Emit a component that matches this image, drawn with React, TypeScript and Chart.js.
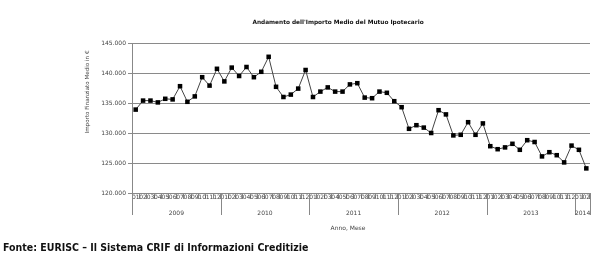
import { useEffect, useRef } from 'react';
import { Chart, registerables } from 'chart.js';

Chart.register(...registerables);

const chartTitle = "Andamento dell'Importo Medio del Mutuo Ipotecario";
const yAxisTitle = 'Importo Finanziato Medio in €';
const xAxisTitle = 'Anno, Mese';
const footerText = 'Fonte: EURISC – Il Sistema CRIF di Informazioni Creditizie';

const monthLabels = [
  '01', '02', '03', '04', '05', '06', '07', '08', '09', '10', '11', '12',
  '01', '02', '03', '04', '05', '06', '07', '08', '09', '10', '11', '12',
  '01', '02', '03', '04', '05', '06', '07', '08', '09', '10', '11', '12',
  '01', '02', '03', '04', '05', '06', '07', '08', '09', '10', '11', '12',
  '01', '02', '03', '04', '05', '06', '07', '08', '09', '10', '11', '12',
  '01', '02',
];

const yearLabels = ['2009', '2010', '2011', '2012', '2013', '2014'];
const monthsPerYear = [12, 12, 12, 12, 12, 2];

const importoMedio = [
  // 2009
  133900, 135400, 135400, 135100, 135700, 135600, 137800, 135200, 136100, 139300, 137900, 140700,
  // 2010
  138600, 140900, 139500, 141000, 139300, 140200, 142700, 137700, 136000, 136400, 137400, 140500,
  // 2011
  136000, 136900, 137600, 136900, 136900, 138100, 138300, 135900, 135800, 136900, 136700, 135300,
  // 2012
  134300, 130700, 131300, 130900, 130000, 133800, 133100, 129600, 129700, 131800, 129700, 131600,
  // 2013
  127800, 127300, 127600, 128200, 127200, 128800, 128500, 126100, 126800, 126300, 125100, 127900,
  // 2014
  127200, 124100,
];

const yMin = 120000;
const yMax = 145000;
const yStep = 5000;

const FONT = '"DejaVu Sans", Verdana, sans-serif';

const overlayPlugin = {
  id: 'overlayTexts',
  afterDraw(chart: any) {
    const { ctx, chartArea } = chart;
    const xs = chart.scales.x;
    ctx.save();
    // chart title
    ctx.fillStyle = '#111';
    ctx.font = `bold 5.8px ${FONT}`;
    ctx.textAlign = 'center';
    ctx.textBaseline = 'middle';
    ctx.fillText(chartTitle, 338, 22);

    // y axis title
    ctx.save();
    ctx.translate(88, 92);
    ctx.rotate(-Math.PI / 2);
    ctx.font = `5.6px ${FONT}`;
    ctx.fillStyle = '#444';
    ctx.fillText(yAxisTitle, 0, 0);
    ctx.restore();

    // year groups
    const half = (xs.getPixelForValue(1) - xs.getPixelForValue(0)) / 2;
    const bottom = chartArea.bottom;
    ctx.strokeStyle = '#888';
    ctx.lineWidth = 1;
    ctx.font = `6px ${FONT}`;
    ctx.fillStyle = '#444';
    let start = 0;
    for (let i = 0; i < yearLabels.length; i++) {
      const count = monthsPerYear[i];
      const left = xs.getPixelForValue(start) - half;
      const right = xs.getPixelForValue(start + count - 1) + half;
      ctx.beginPath();
      ctx.moveTo(Math.round(left) + 0.5, bottom);
      ctx.lineTo(Math.round(left) + 0.5, bottom + 22);
      ctx.stroke();
      if (i === yearLabels.length - 1) {
        ctx.beginPath();
        ctx.moveTo(Math.round(right) + 0.5, bottom);
        ctx.lineTo(Math.round(right) + 0.5, bottom + 22);
        ctx.stroke();
      }
      ctx.fillText(yearLabels[i], (left + right) / 2, bottom + 20);
      start += count;
    }

    // x axis title
    ctx.fillText(xAxisTitle, 348, bottom + 35);
    ctx.restore();
  },
};

export default function App() {
  const canvasRef = useRef<HTMLCanvasElement | null>(null);

  useEffect(() => {
    const canvas = canvasRef.current;
    if (!canvas) return;
    const chart = new Chart(canvas, {
      type: 'line',
      data: {
        labels: monthLabels,
        datasets: [
          {
            data: importoMedio,
            borderColor: '#444',
            borderWidth: 1,
            pointStyle: 'rect',
            pointRadius: 3.2,
            pointBackgroundColor: '#000',
            pointBorderColor: '#000',
            pointBorderWidth: 0,
            tension: 0,
          },
        ],
      },
      options: {
        responsive: false,
        animation: false,
        devicePixelRatio: 1,
        layout: { padding: { left: 0, right: 20, top: 43, bottom: 0 } },
        plugins: {
          legend: { display: false },
          title: { display: false },
          tooltip: { enabled: false },
        },
        scales: {
          x: {
            type: 'category',
            offset: true,
            afterFit: (s: any) => {
              s.height = 70;
            },
            grid: {
              offset: true,
              drawOnChartArea: false,
              drawTicks: true,
              tickLength: 6,
              color: '#888',
            },
            border: { display: true, color: '#888', width: 1 },
            ticks: {
              autoSkip: false,
              maxRotation: 0,
              minRotation: 0,
              padding: -5,
              color: '#444',
              font: { family: FONT, size: 6 },
            },
          },
          y: {
            min: yMin,
            max: yMax,
            afterFit: (s: any) => {
              s.width = 132;
            },
            grid: {
              color: '#8a8a8a',
              lineWidth: 1,
              tickLength: 4,
              drawTicks: true,
            },
            border: { display: true, color: '#888', width: 1 },
            ticks: {
              stepSize: yStep,
              padding: 2,
              color: '#444',
              font: { family: FONT, size: 6 },
              callback: (v: any) => `${Math.round(Number(v) / 1000)}.000`,
            },
          },
        },
      },
      plugins: [overlayPlugin],
    });
    return () => chart.destroy();
  }, []);

  return (
    <div style={{ position: 'fixed', left: 0, top: 0, width: 610, height: 263, background: '#fff' }}>
      <canvas ref={canvasRef} width={610} height={263} style={{ display: 'block' }} />
      <div
        style={{
          position: 'absolute',
          left: 3,
          top: 242,
          fontFamily: FONT,
          fontWeight: 'bold',
          fontSize: 10,
          lineHeight: '12px',
          color: '#111',
          whiteSpace: 'nowrap',
          transformOrigin: 'left top',
          transform: 'scaleX(0.945)',
        }}
      >
        {footerText}
      </div>
    </div>
  );
}
